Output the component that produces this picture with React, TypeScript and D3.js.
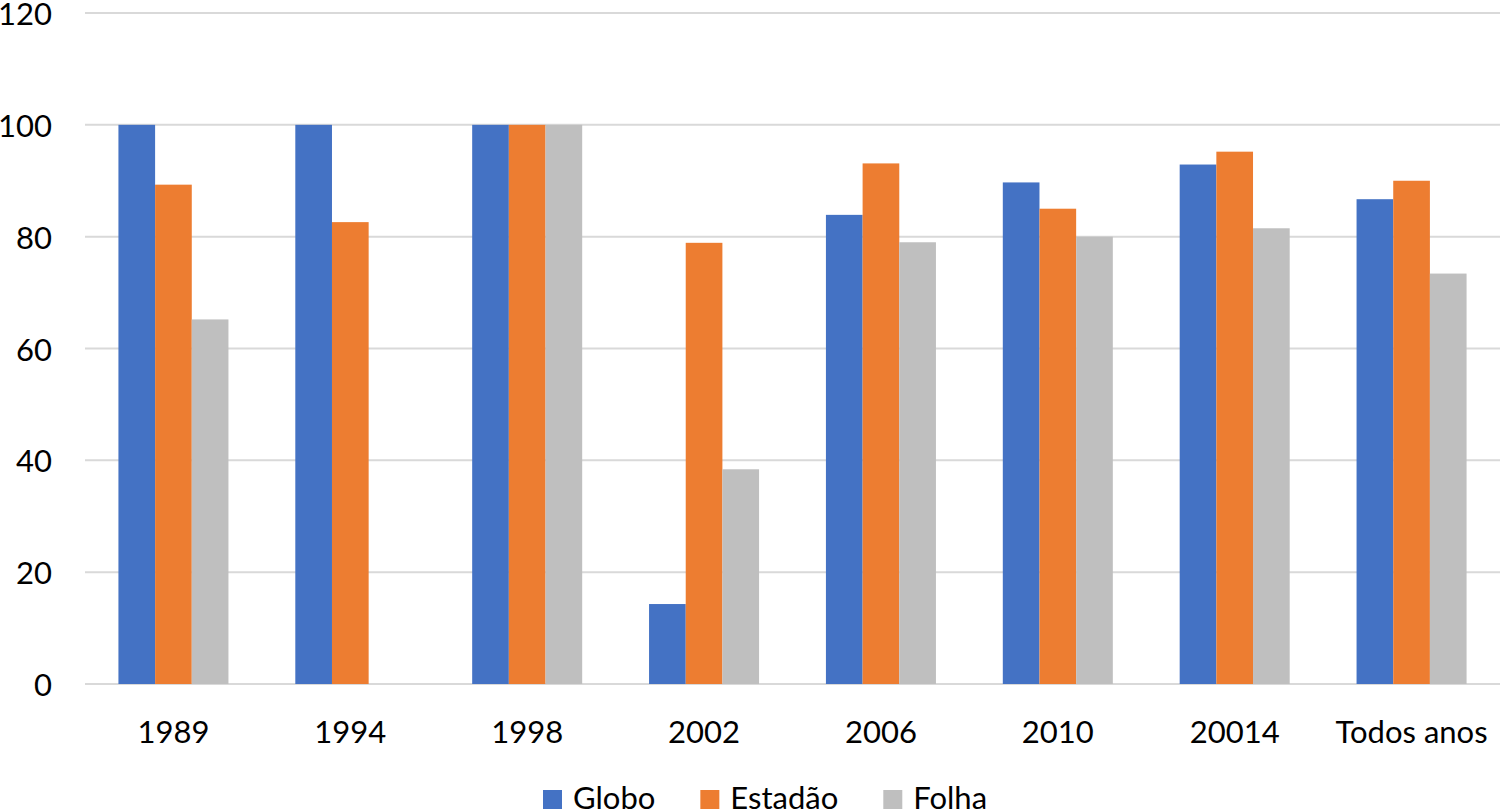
import { useEffect, useRef } from 'react'
import * as d3 from 'd3'

const categories = ['1989', '1994', '1998', '2002', '2006', '2010', '20014', 'Todos anos']
const seriesNames = ['Globo', 'Estadão', 'Folha']
const globo = [100, 100, 100, 14.3, 83.9, 89.7, 92.9, 86.7]
const estadao = [89.3, 82.6, 100, 78.9, 93.1, 85.0, 95.2, 90.0]
const folha = [65.2, 0, 100, 38.4, 79.0, 80.0, 81.5, 73.4]
const yTicks = [0, 20, 40, 60, 80, 100, 120]
const colors = ['#4472C4', '#ED7D31', '#BFBFBF']

const width = 1500
const height = 811
const font = 'Lato, "Open Sans", sans-serif'
const fontSize = 31

export default function App() {
  const svgRef = useRef<SVGSVGElement>(null)

  useEffect(() => {
    if (!svgRef.current) return
    const svg = d3.select(svgRef.current)
    svg.selectAll('*').remove()

    const values = [globo, estadao, folha]

    const x = d3.scaleBand<string>()
      .domain(categories)
      .range([85, 1500])
      .paddingInner(0.378)
      .paddingOuter(0.189)

    const xInner = d3.scaleBand<string>()
      .domain(seriesNames)
      .range([0, x.bandwidth()])

    const y = d3.scaleLinear()
      .domain([0, 120])
      .range([684, 13])

    // grid lines
    svg.append('g')
      .selectAll('line')
      .data(yTicks)
      .enter()
      .append('line')
      .attr('x1', 85)
      .attr('x2', 1500)
      .attr('y1', d => y(d))
      .attr('y2', d => y(d))
      .attr('stroke', '#D9D9D9')
      .attr('stroke-width', 2)

    // y labels
    svg.append('g')
      .selectAll('text')
      .data(yTicks)
      .enter()
      .append('text')
      .attr('x', 52)
      .attr('y', d => y(d) + 12)
      .attr('text-anchor', 'end')
      .attr('font-family', font)
      .attr('font-size', fontSize)
      .attr('fill', '#000')
      .text(d => d)

    // bars
    seriesNames.forEach((name, si) => {
      svg.append('g')
        .selectAll('rect')
        .data(values[si])
        .enter()
        .append('rect')
        .attr('x', (_, i) => (x(categories[i]) ?? 0) + (xInner(name) ?? 0))
        .attr('y', d => y(d))
        .attr('width', xInner.bandwidth())
        .attr('height', d => y(0) - y(d))
        .attr('fill', colors[si])
    })

    // x labels
    svg.append('g')
      .selectAll('text')
      .data(categories)
      .enter()
      .append('text')
      .attr('x', d => (x(d) ?? 0) + x.bandwidth() / 2)
      .attr('y', 743)
      .attr('text-anchor', 'middle')
      .attr('font-family', font)
      .attr('font-size', fontSize)
      .attr('fill', '#000')
      .text(d => d)

    // legend
    const legend = svg.append('g')
    let lx = 543
    seriesNames.forEach((name, si) => {
      legend.append('rect')
        .attr('x', lx)
        .attr('y', 790)
        .attr('width', 19)
        .attr('height', 19)
        .attr('fill', colors[si])
      const t = legend.append('text')
        .attr('x', lx + 30)
        .attr('y', 809)
        .attr('font-family', font)
        .attr('font-size', fontSize)
        .attr('fill', '#000')
        .text(name)
      const w = (t.node() as SVGTextElement).getComputedTextLength()
      lx += 30 + w + 45
    })
  }, [])

  return (
    <svg
      ref={svgRef}
      width={width}
      height={height}
      style={{ position: 'absolute', left: 0, top: 0, background: '#fff' }}
    />
  )
}
